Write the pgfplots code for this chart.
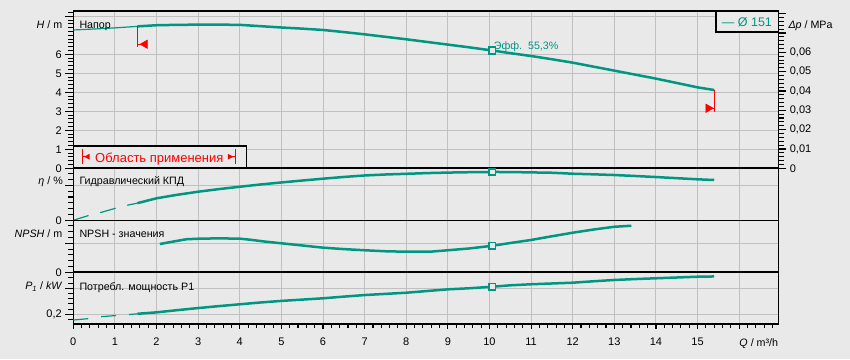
\documentclass[border=0pt]{standalone}
\usepackage{fontspec}
\setmainfont{Liberation Sans}
\usepackage{pgfplots}
\pgfplotsset{compat=1.18}
\definecolor{bg}{RGB}{233,233,233}
\definecolor{gridc}{RGB}{192,192,192}
\definecolor{curve}{RGB}{0,150,130}
\newcommand{\fs}{\fontsize{10.7}{12.5}\selectfont}
\newcommand{\fn}{\fontsize{11}{12.5}\selectfont}
\pgfplotsset{
  panel/.style={scale only axis, width=705pt, anchor=south west,
    xmin=0, xmax=16.94, xtick=\empty,
    axis line style={black, line width=1.6pt},
    ymajorgrids, grid style={gridc, line width=1pt},
    ytick pos=left, tick align=outside,
    major tick length=8pt, minor tick length=5.5pt,
    every tick/.style={black, line width=1.1pt},
    yticklabel style={font=\fn},
    scaled y ticks=false,
  },
  thick curve/.style={curve, line width=2.5pt, line join=round},
  thin curve/.style={curve, line width=1.2pt},
  bp/.style={only marks, mark=square*, mark size=3.2pt, mark options={fill=bg, draw=curve, line width=1.8pt, solid}},
}
\begin{document}
\begin{tikzpicture}
\fill[bg] (0pt,0pt) rectangle (850pt,359pt);
% frame axis: x ticks and vertical grid
\begin{axis}[at={(73.3pt,35pt)}, anchor=south west, scale only axis,
  width=705pt, height=312.7pt, xmin=0, xmax=16.94, ymin=0, ymax=1,
  axis line style={black, line width=1.6pt},
  ytick=\empty,
  xtick={0,...,16},
  xticklabels={0,1,2,3,4,5,6,7,8,9,10,11,12,13,14,15,{}},
  minor xtick={0,0.2,...,16.8},
  xtick pos=left, tick align=outside,
  major tick length=5pt, minor tick length=4pt,
  every tick/.style={black, line width=1.1pt},
  xmajorgrids, grid style={gridc, line width=1pt},
  xticklabel style={font=\fn, yshift=-5.5pt},
]
\addplot[draw=none] coordinates {(0,0)};
\end{axis}
% H panel
\begin{axis}[panel, at={(73.3pt,190.7pt)}, height=157pt, ymin=0, ymax=8.263,
  ytick={0,1,2,3,4,5,6,8}, yticklabels={0,1,2,3,4,5,6,{}},
  minor ytick={0,0.2,...,8.2}]
\addplot[thin curve] coordinates {(0,7.28) (0.5,7.33) (1.0,7.39) (1.54,7.47)};
\addplot[thick curve] coordinates {(1.54,7.47) (2,7.53) (2.5,7.55) (3,7.56) (3.5,7.56) (4,7.55) (4.5,7.48) (5,7.41) (5.5,7.35) (6,7.28) (6.5,7.17) (7,7.05) (7.5,6.92) (8,6.79) (8.5,6.65) (9,6.51) (9.5,6.37) (10.07,6.2) (10.5,6.06) (11,5.91) (11.5,5.74) (12,5.56) (12.5,5.35) (13,5.14) (13.5,4.93) (14,4.72) (14.5,4.49) (15,4.26) (15.4,4.12)};
\addplot[bp] coordinates {(10.07,6.2)};
\addplot[red, line width=1.1pt] coordinates {(1.54,7.47) (1.54,6.38)};
\addplot[red, line width=1.1pt] coordinates {(1.54,6.53) (1.66,6.53)};
\addplot[red, only marks, mark=triangle*, mark size=4.9pt, mark options={rotate=90}] coordinates {(1.72,6.53)};
\addplot[red, line width=1.1pt] coordinates {(15.4,4.12) (15.4,2.98)};
\addplot[red, line width=1.1pt] coordinates {(15.4,3.16) (15.3,3.16)};
\addplot[red, only marks, mark=triangle*, mark size=4.9pt, mark options={rotate=-90}] coordinates {(15.26,3.16)};
\node[anchor=base west, text=curve, font=\fs, inner sep=0pt] at (axis cs:10.1,6.25) {Эфф.\ \ 55,3\%};
\end{axis}
% eta panel
\begin{axis}[panel, at={(73.3pt,138.7pt)}, height=52pt, ymin=0, ymax=59.5,
  ytick={0,40}, yticklabels={0,{}},
  minor ytick={6.667,13.333,20,26.667,33.333,46.667,53.333}]
\addplot[thin curve, dash pattern=on 16pt off 12pt] coordinates {(0,0) (0.38,5.7) (0.68,9.2) (1.06,14.4) (1.32,17.5) (1.54,19.6)};
\addplot[thick curve] coordinates {(1.54,19.6) (2,25.2) (2.5,29.2) (3,32.7) (3.5,35.7) (4,38.4) (4.5,41.0) (5,43.3) (5.5,45.5) (6,47.6) (6.5,49.6) (7,51.3) (7.5,52.4) (8,53.2) (8.5,54.0) (9,54.6) (9.5,55.0) (10.07,55.3) (10.5,55.2) (11,54.8) (11.5,54.4) (12,53.3) (12.5,52.6) (13,51.8) (13.5,50.7) (14,49.5) (14.5,48.2) (15,46.9) (15.4,46.1)};
\addplot[bp] coordinates {(10.07,55.3)};
\end{axis}
% NPSH panel
\begin{axis}[panel, at={(73.3pt,86.7pt)}, height=52pt, ymin=0, ymax=3.586,
  ytick={0,2}, yticklabels={0,{}},
  minor ytick={0.4,0.8,1.2,1.6,2.4,2.8,3.2}]
\addplot[thick curve] coordinates {(2.08,1.95) (2.4,2.12) (2.72,2.28) (3.04,2.32) (3.5,2.34) (4,2.32) (4.24,2.25) (4.6,2.12) (5,2.0) (5.5,1.85) (6,1.70) (6.5,1.60) (7,1.52) (7.5,1.45) (8,1.42) (8.57,1.42) (9,1.52) (9.5,1.64) (10.07,1.83) (10.5,2.02) (11,2.23) (11.45,2.46) (12,2.73) (12.5,2.95) (13,3.14) (13.41,3.21)};
\addplot[bp] coordinates {(10.07,1.83)};
\end{axis}
% P1 panel
\begin{axis}[panel, at={(73.3pt,35pt)}, height=51.7pt, ymin=0.1254, ymax=0.523,
  ytick={0.2,0.4}, yticklabels={{0,2},{}},
  minor ytick={0.16,0.24,0.28,0.32,0.36,0.44,0.48,0.52}]
\addplot[thin curve, dash pattern=on 15pt off 13pt] coordinates {(0,0.156) (0.34,0.166) (0.68,0.182) (1.1,0.192) (1.4,0.2) (1.54,0.204)};
\addplot[thick curve] coordinates {(1.54,0.204) (2,0.215) (2.5,0.232) (3,0.248) (3.5,0.263) (4,0.277) (4.5,0.291) (5,0.303) (5.5,0.313) (6,0.323) (6.5,0.336) (7,0.348) (7.5,0.357) (8,0.366) (8.5,0.379) (9,0.392) (9.5,0.400) (10.07,0.412) (10.5,0.423) (11,0.431) (11.5,0.437) (12,0.443) (12.5,0.454) (13,0.464) (13.5,0.471) (14,0.477) (14.5,0.483) (15,0.489) (15.4,0.491)};
\addplot[bp] coordinates {(10.07,0.412)};
\end{axis}
% Delta p axis
\begin{axis}[at={(73.3pt,190.7pt)}, anchor=south west, scale only axis,
  width=705pt, height=157pt, xmin=0, xmax=16.94, ymin=0, ymax=0.08122,
  axis x line=none, axis y line*=right,
  axis line style={black, line width=1.6pt},
  ytick={0,0.01,0.02,0.03,0.04,0.05,0.06,0.07,0.08},
  yticklabels={0,{0,01},{0,02},{0,03},{0,04},{0,05},{0,06},{},{}},
  minor ytick={0.002,0.004,...,0.08},
  tick align=outside, major tick length=8pt, minor tick length=5.5pt,
  every tick/.style={black, line width=1.1pt},
  yticklabel style={font=\fn},
  scaled y ticks=false,
]
\addplot[draw=none] coordinates {(0,0)};
\end{axis}
% labels
\node[anchor=base west, font=\fs, inner sep=0pt] at (79.3pt,330.7pt) {Напор};
\node[anchor=base east, font=\fs, inner sep=0pt] at (62.5pt,330.7pt) {\textit{H} / m};
\node[anchor=base west, font=\fs, inner sep=0pt] at (79.3pt,174.7pt) {Гидравлический КПД};
\node[anchor=base east, font=\fs, inner sep=0pt] at (63pt,174.5pt) {\textit{η} / \%};
\node[anchor=base west, font=\fs, inner sep=0pt] at (79.3pt,121.7pt) {NPSH - значения};
\node[anchor=base east, font=\fs, inner sep=0pt] at (62.5pt,121.7pt) {\textit{NPSH} / m};
\node[anchor=base west, font=\fs, inner sep=0pt] at (79.3pt,69pt) {Потребл. мощность P1};
\node[anchor=base east, font=\fs, inner sep=0pt] at (62.5pt,69.5pt) {\textit{P\textsubscript{1}} / \textit{kW}};
\node[anchor=base west, font=\fs, inner sep=0pt] at (788.3pt,330.7pt) {\textit{Δp} / MPa};
\node[anchor=base east, font=\fs, inner sep=0pt] at (778.3pt,13pt) {\textit{Q} / m³/h};
% application range box
\draw[line width=1.6pt, fill=bg] (73.3pt,190.7pt) rectangle (246.3pt,213pt);
\draw[red, line width=1pt] (82.3pt,194.7pt) -- (82.3pt,209.7pt);
\draw[red, line width=1pt] (235pt,194.7pt) -- (235pt,209.7pt);
\draw[red, line width=1pt] (82.3pt,202.3pt) -- (86pt,202.3pt);
\draw[red, line width=1pt] (231pt,202.3pt) -- (235pt,202.3pt);
\fill[red] (84pt,202.3pt) -- (89.5pt,205.2pt) -- (89.5pt,199.4pt) -- cycle;
\fill[red] (233.3pt,202.3pt) -- (227.8pt,205.2pt) -- (227.8pt,199.4pt) -- cycle;
\node[anchor=base west, red, font=\fontsize{13}{15}\selectfont, inner sep=0pt] at (95pt,196.7pt) {Область применения};
% legend box
\draw[line width=1.6pt, fill=bg] (715.7pt,326.7pt) rectangle (778.3pt,347.7pt);
\node[anchor=base west, text=curve, font=\fontsize{12.5}{14}\selectfont, inner sep=0pt] at (721.7pt,332.3pt) {— Ø 151};
\pgfresetboundingbox
\useasboundingbox (0pt,0pt) rectangle (850pt,359pt);
\end{tikzpicture}
\end{document}
